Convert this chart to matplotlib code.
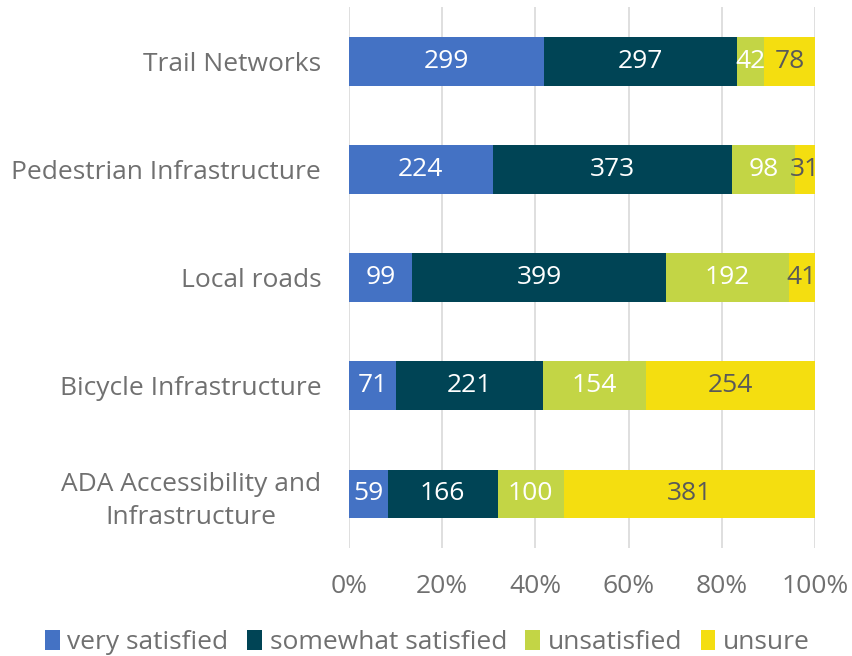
import matplotlib.pyplot as plt
import numpy as np

plt.rcParams['font.family'] = ['Open Sans', 'DejaVu Sans']

# data
categories = ['Trail Networks', 'Pedestrian Infrastructure', 'Local roads',
              'Bicycle Infrastructure', 'ADA Accessibility and\nInfrastructure']
series = ['very satisfied', 'somewhat satisfied', 'unsatisfied', 'unsure']
very_satisfied = [299, 224, 99, 71, 59]
somewhat_satisfied = [297, 373, 399, 221, 166]
unsatisfied = [42, 98, 192, 154, 100]
unsure = [78, 31, 41, 254, 381]

colors = ['#4472C4', '#004455', '#C3D545', '#F4DE10']
grey = '#707070'
label_colors = ['white', 'white', 'white', '#595959']

counts = np.array([very_satisfied, somewhat_satisfied, unsatisfied, unsure], dtype=float)
totals = counts.sum(axis=0)
pct = counts / totals * 100

fig = plt.figure(figsize=(8.52, 6.56), dpi=100)
ax = fig.add_axes([0.4096, 0.1646, 0.5470, 0.8244])

y = np.arange(len(categories))[::-1]
left = np.zeros(len(categories))
for i, name in enumerate(series):
    bars = ax.barh(y, pct[i], left=left, height=0.45, color=colors[i], label=name, zorder=3)
    for j, b in enumerate(bars):
        ax.text(left[j] + pct[i][j] / 2, y[j], f'{int(counts[i][j])}',
                ha='center', va='center', fontsize=19, color=label_colors[i], zorder=4)
    left += pct[i]

ax.set_xlim(0, 100)
ax.set_ylim(-0.5, len(categories) - 0.5)
ax.set_xticks(np.arange(0, 101, 20))
ax.set_xticklabels([f'{v}%' for v in range(0, 101, 20)])
ax.set_yticks(y)
ax.set_yticklabels(categories, ha='right', multialignment='center', linespacing=1.45)
ax.tick_params(axis='both', length=0, labelsize=19, labelcolor=grey)
ax.tick_params(axis='y', pad=20)
ax.tick_params(axis='x', pad=19)
ax.grid(axis='x', color='#D9D9D9', linewidth=1.2, zorder=0)
for s in ax.spines.values():
    s.set_visible(False)

leg = fig.legend(loc='lower left', bbox_to_anchor=(0.025, -0.035), ncol=4, frameon=False,
                 fontsize=19, handlelength=0.55, handleheight=0.8, handletextpad=0.3,
                 columnspacing=0.7)
for t in leg.get_texts():
    t.set_color(grey)

fig.savefig('out.png', dpi=100)
